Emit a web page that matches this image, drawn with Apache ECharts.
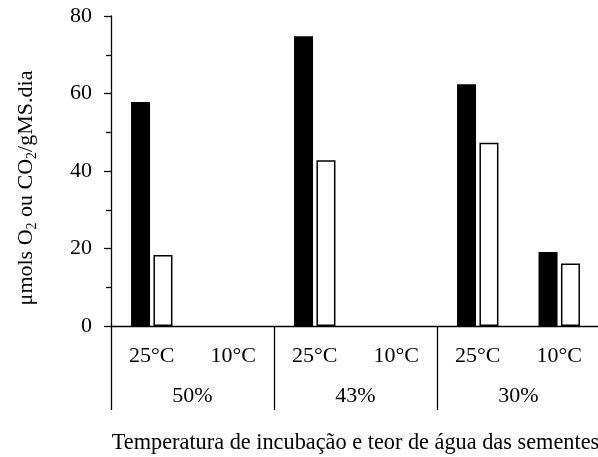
<!DOCTYPE html>
<html>
<head>
<meta charset="utf-8">
<script src="https://cdn.jsdelivr.net/npm/echarts@6/dist/echarts.min.js"></script>
<style>html,body{margin:0;padding:0;background:#fff;}#c{width:598px;height:457px;}</style>
</head>
<body>
<div id="c"></div>
<script>
const tempLabels = ['25°C', '10°C', '25°C', '10°C', '25°C', '10°C'];
const waterLabels = ['50%', '43%', '30%'];
const blackValues = [57.8, null, 74.8, null, 62.4, 19.1];
const whiteValues = [18.3, null, 42.8, null, 47.3, 16.1];
const yTitle = '{a|μmols O}{s|2}{a| ou CO}{s|2}{a|/gMS.dia}';
const xTitle = 'Temperatura de incubação e teor de água das sementes';

const FONT = 'Liberation Serif';
const FS = 22;
const chart = echarts.init(document.getElementById('c'), null, {renderer: 'canvas'});
chart.setOption({
  animation: false,
  backgroundColor: '#fff',
  grid: {left: 111, right: -2, top: 16, bottom: 131, containLabel: false, outerBoundsMode: 'none'},
  xAxis: [{
    type: 'category',
    data: tempLabels,
    position: 'bottom',
    axisLine: {show: true, lineStyle: {color: '#000', width: 1.3}},
    axisTick: {show: false},
    axisLabel: {color: '#000', fontFamily: FONT, fontSize: FS, margin: 19, interval: 0},
    name: xTitle,
    nameLocation: 'middle',
    nameGap: 106,
    nameTextStyle: {color: '#000', fontFamily: FONT, fontSize: 22.3}
  }, {
    type: 'category',
    data: waterLabels,
    position: 'bottom',
    axisLine: {show: false},
    axisTick: {show: true, length: 84, lineStyle: {color: '#000', width: 1.3}},
    axisLabel: {color: '#000', fontFamily: FONT, fontSize: FS, margin: 59, interval: 0},
    splitLine: {show: false}
  }],
  yAxis: {
    type: 'value',
    min: 0, max: 80, interval: 20,
    axisLine: {show: true, lineStyle: {color: '#000', width: 1.3}},
    axisTick: {show: true, length: 7, lineStyle: {color: '#000', width: 1.3}},
    minorTick: {show: true, splitNumber: 2, length: 5, lineStyle: {color: '#000', width: 1.3}},
    splitLine: {show: false},
    minorSplitLine: {show: false},
    axisLabel: {color: '#000', fontFamily: FONT, fontSize: FS, margin: 19}
  },
  graphic: [{
    type: 'text',
    x: 26, y: 188,
    rotation: Math.PI / 2,
    style: {
      text: yTitle,
      align: 'center',
      verticalAlign: 'middle',
      fill: '#000',
      rich: {
        a: {fontFamily: FONT, fontSize: FS, fill: '#000', lineHeight: 26, verticalAlign: 'middle'},
        s: {fontFamily: FONT, fontSize: 14, fill: '#000', lineHeight: 14, verticalAlign: 'bottom'}
      }
    }
  }],
  series: [{
    type: 'bar',
    xAxisIndex: 0,
    data: blackValues,
    barWidth: 19,
    barGap: '18%',
    itemStyle: {color: '#000'}
  }, {
    type: 'bar',
    xAxisIndex: 0,
    data: whiteValues,
    barWidth: 19,
    barGap: '18%',
    itemStyle: {color: '#fff', borderColor: '#000', borderWidth: 1.5}
  }]
});
</script>
</body>
</html>
